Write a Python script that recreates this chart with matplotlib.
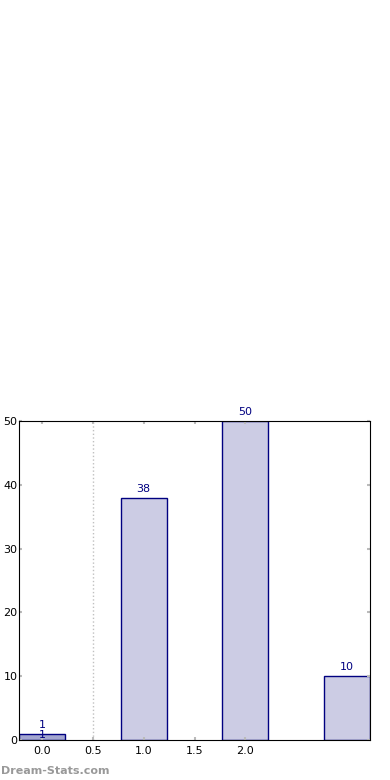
import matplotlib.pyplot as plt

# Data
positions = [0, 1, 2, 3]
counts = [1, 38, 50, 10]
xticks = [0.0, 0.5, 1.0, 1.5, 2.0]
xtick_labels = ['0.0', '0.5', '1.0', '1.5', '2.0']
yticks = [0, 10, 20, 30, 40, 50]

fig = plt.figure(figsize=(3.9, 7.8), dpi=100)
ax = fig.add_axes([19 / 390, 40 / 780, 351 / 390, 319 / 780])

colors = ['#a3a6d0'] + ['#cccce4'] * 3
ax.bar(positions, counts, width=0.45, color=colors, edgecolor='#000080', linewidth=1)

ax.axvline(0.5, color='#c0c0c0', linestyle=':', linewidth=1)

for x, c in zip(positions, counts):
    ax.text(x, c + 0.6, str(c), ha='center', va='bottom', color='#000080', fontsize=8)
# second label on the first bar
ax.text(positions[0], 0.05, str(counts[0]), ha='center', va='bottom', color='#000080', fontsize=8)

ax.set_xlim(-0.225, 3.225)
ax.set_ylim(0, 50)
ax.set_xticks(xticks)
ax.set_xticklabels(xtick_labels)
ax.set_yticks(yticks)
ax.tick_params(direction='in', color='#bbbbbb', width=1.5, length=2.5, labelsize=8,
               top=True, right=True)
ax.tick_params(axis='x', pad=4)
ax.tick_params(axis='y', pad=1)

fig.text(0.002, 1 - 771 / 780, 'Dream-Stats.com', color='#999999', fontsize=8,
         fontweight='bold', ha='left', va='center')

fig.savefig('out.png', dpi=100)
